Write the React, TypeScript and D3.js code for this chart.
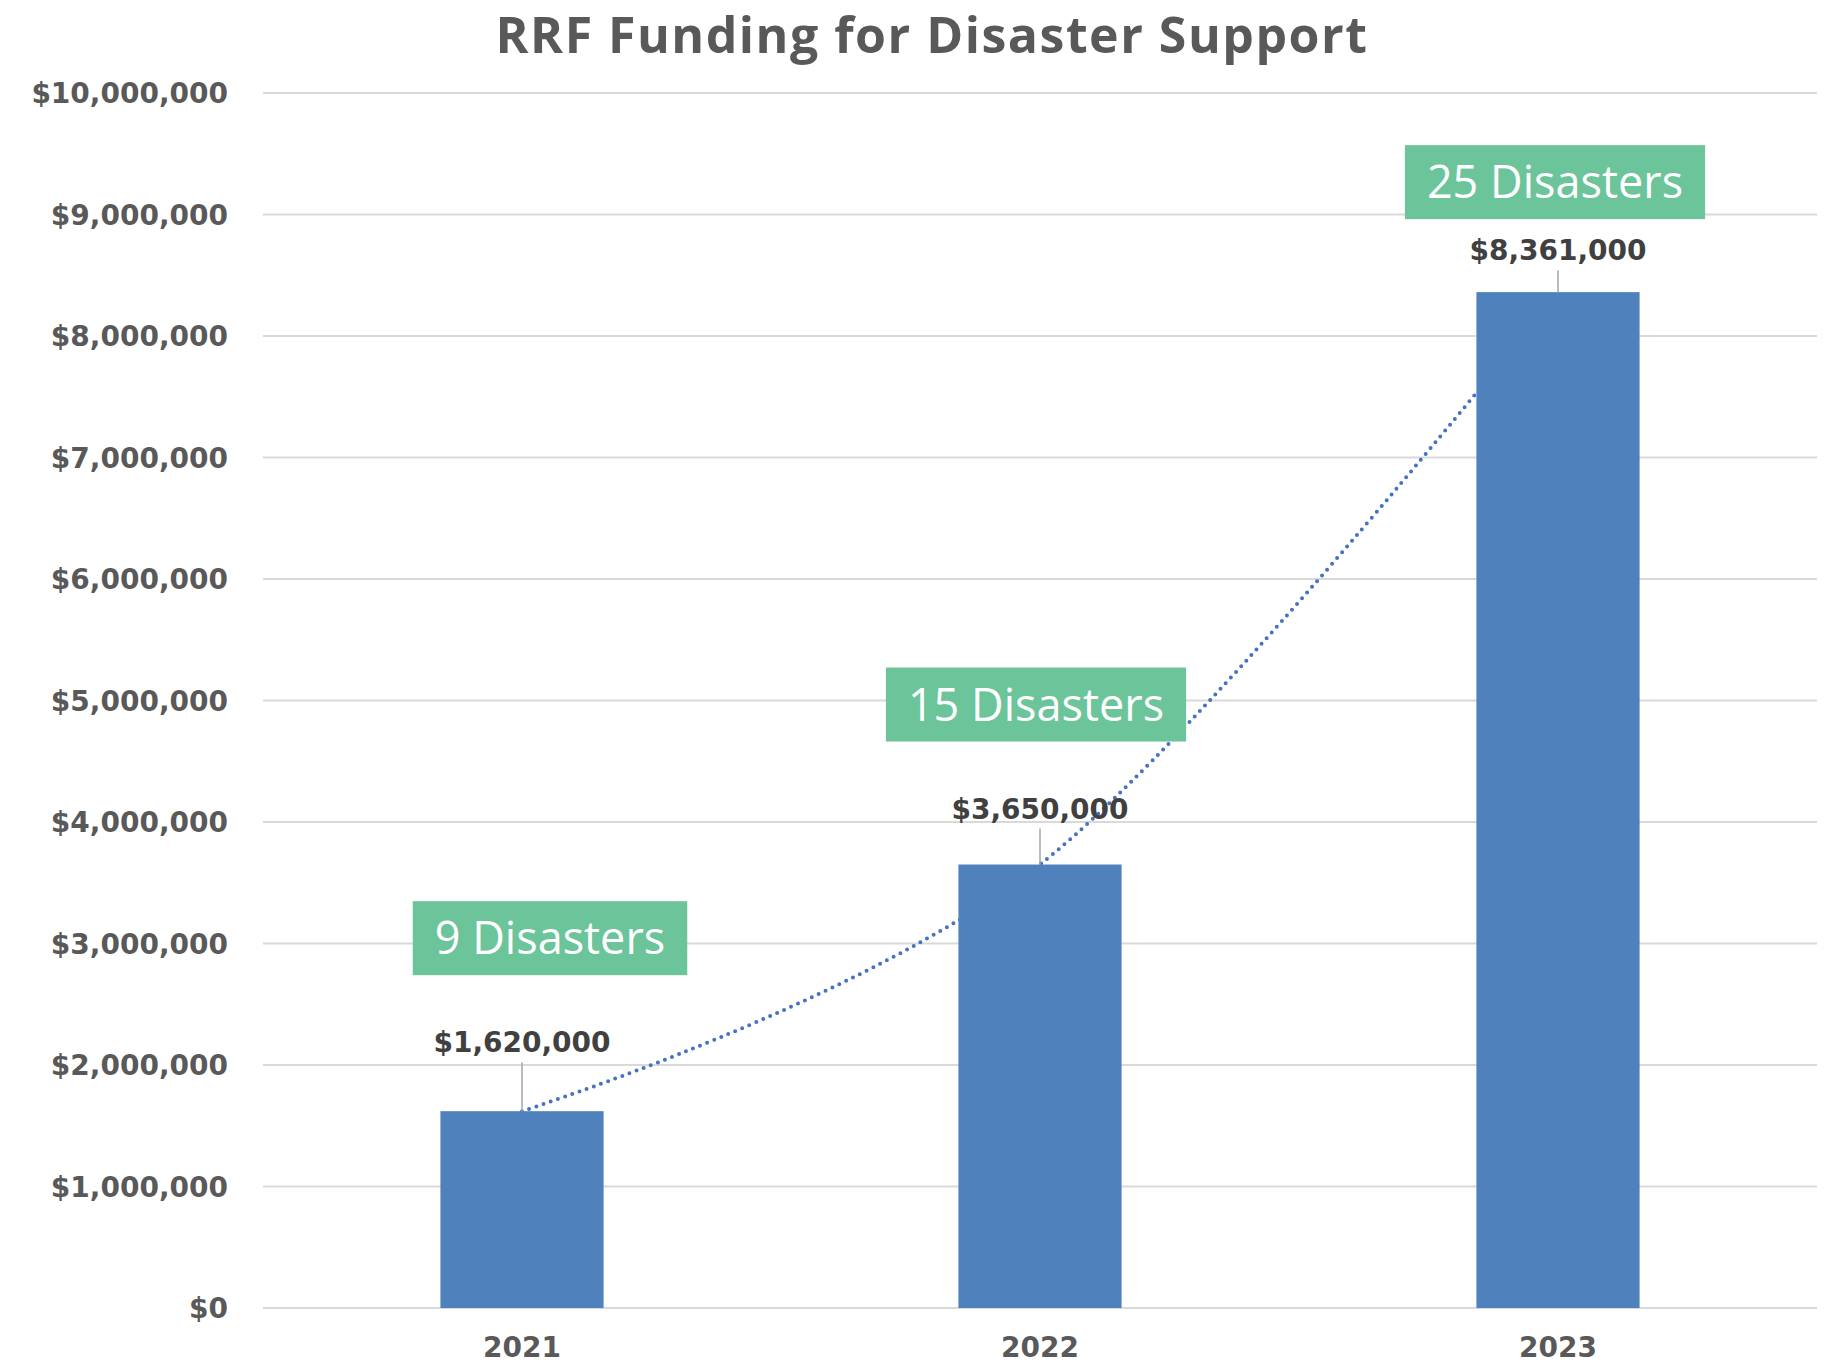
import React, { useEffect, useRef } from 'react';
import * as d3 from 'd3';

const years = ['2021', '2022', '2023'];
const funding = [1620000, 3650000, 8361000];
const disasters = [9, 15, 25];
const yTicks = [0, 1000000, 2000000, 3000000, 4000000, 5000000, 6000000, 7000000, 8000000, 9000000, 10000000];

const W = 1824;
const H = 1367;
const plot = { left: 263, right: 1817, top: 93, bottom: 1308 };

// hand placed annotations, measured from the bar tops
const labelLift = [59, 46, 32];
const calloutShift = [
  { dx: 28, dy: 173 },
  { dx: -4, dy: 160 },
  { dx: -3, dy: 110 },
];

const numFont = '"DejaVu Sans", sans-serif';
const textFont = '"Open Sans", sans-serif';
const money = (v: number) => '$' + d3.format(',')(v);

export default function App() {
  const ref = useRef<SVGSVGElement>(null);

  useEffect(() => {
    document.body.style.margin = '0';
    const svg = d3.select(ref.current);
    svg.selectAll('*').remove();

    const x = d3.scaleBand<string>()
      .domain(years)
      .range([plot.left, plot.right])
      .paddingInner(0.685)
      .paddingOuter(0.3425);
    const y = d3.scaleLinear().domain([0, 10000000]).range([plot.bottom, plot.top]);
    const cx = (i: number) => (x(years[i]) as number) + x.bandwidth() / 2;

    // title
    svg.append('text')
      .attr('x', 932)
      .attr('y', 53)
      .attr('text-anchor', 'middle')
      .attr('font-family', textFont)
      .attr('font-weight', 700)
      .attr('font-size', 50)
      .attr('letter-spacing', 1.5)
      .attr('fill', '#595959')
      .text('RRF Funding for Disaster Support');

    // gridlines + y labels
    svg.append('g').selectAll('line')
      .data(yTicks)
      .join('line')
      .attr('x1', plot.left)
      .attr('x2', plot.right)
      .attr('y1', d => y(d))
      .attr('y2', d => y(d))
      .attr('stroke', '#D9D9D9')
      .attr('stroke-width', 2);

    svg.append('g').selectAll('text')
      .data(yTicks)
      .join('text')
      .attr('x', 228)
      .attr('y', d => y(d) + 10)
      .attr('text-anchor', 'end')
      .attr('font-family', numFont)
      .attr('font-weight', 700)
      .attr('font-size', 28)
      .attr('fill', '#595959')
      .text(d => money(d));

    // smoothed dotted line through the bar tops (sits behind the bars)
    const line = d3.line<number>()
      .x((d, i) => cx(i))
      .y(d => y(d))
      .curve(d3.curveCardinal.tension(0));
    svg.append('path')
      .attr('d', line(funding))
      .attr('fill', 'none')
      .attr('stroke', '#4472C4')
      .attr('stroke-width', 4)
      .attr('stroke-linecap', 'round')
      .attr('stroke-dasharray', '0 7.6');

    // bars
    svg.append('g').selectAll('rect')
      .data(funding)
      .join('rect')
      .attr('x', (d, i) => x(years[i]) as number)
      .attr('y', d => y(d))
      .attr('width', x.bandwidth())
      .attr('height', d => y(0) - y(d))
      .attr('fill', '#4F81BD');

    // leader lines + value labels
    svg.append('g').selectAll('line')
      .data(funding)
      .join('line')
      .attr('x1', (d, i) => cx(i))
      .attr('x2', (d, i) => cx(i))
      .attr('y1', (d, i) => y(d) - labelLift[i] + 10)
      .attr('y2', d => y(d))
      .attr('stroke', '#A6A6A6')
      .attr('stroke-width', 1.5);

    svg.append('g').selectAll('text')
      .data(funding)
      .join('text')
      .attr('x', (d, i) => cx(i))
      .attr('y', (d, i) => y(d) - labelLift[i])
      .attr('text-anchor', 'middle')
      .attr('font-family', numFont)
      .attr('font-weight', 700)
      .attr('font-size', 28)
      .attr('fill', '#404040')
      .text(d => money(d));

    // disaster callouts
    disasters.forEach((n, i) => {
      const g = svg.append('g');
      const mx = cx(i) + calloutShift[i].dx;
      const my = y(funding[i]) - calloutShift[i].dy;
      const rect = g.append('rect');
      const t = g.append('text')
        .attr('x', mx)
        .attr('y', my + 16)
        .attr('text-anchor', 'middle')
        .attr('font-family', textFont)
        .attr('font-weight', 400)
        .attr('font-size', 45)
        .attr('fill', '#FFFFFF')
        .text(n + ' Disasters');
      const w = (t.node() as SVGTextElement).getComputedTextLength() + 44;
      rect.attr('x', mx - w / 2)
        .attr('y', my - 37)
        .attr('width', w)
        .attr('height', 74)
        .attr('fill', '#6CC49A');
    });

    // x labels
    svg.append('g').selectAll('text')
      .data(years)
      .join('text')
      .attr('x', (d, i) => cx(i))
      .attr('y', 1357)
      .attr('text-anchor', 'middle')
      .attr('font-family', numFont)
      .attr('font-weight', 700)
      .attr('font-size', 28)
      .attr('fill', '#595959')
      .text(d => d);
  }, []);

  return (
    <svg ref={ref} width={W} height={H} style={{ display: 'block', background: '#fff' }} />
  );
}
